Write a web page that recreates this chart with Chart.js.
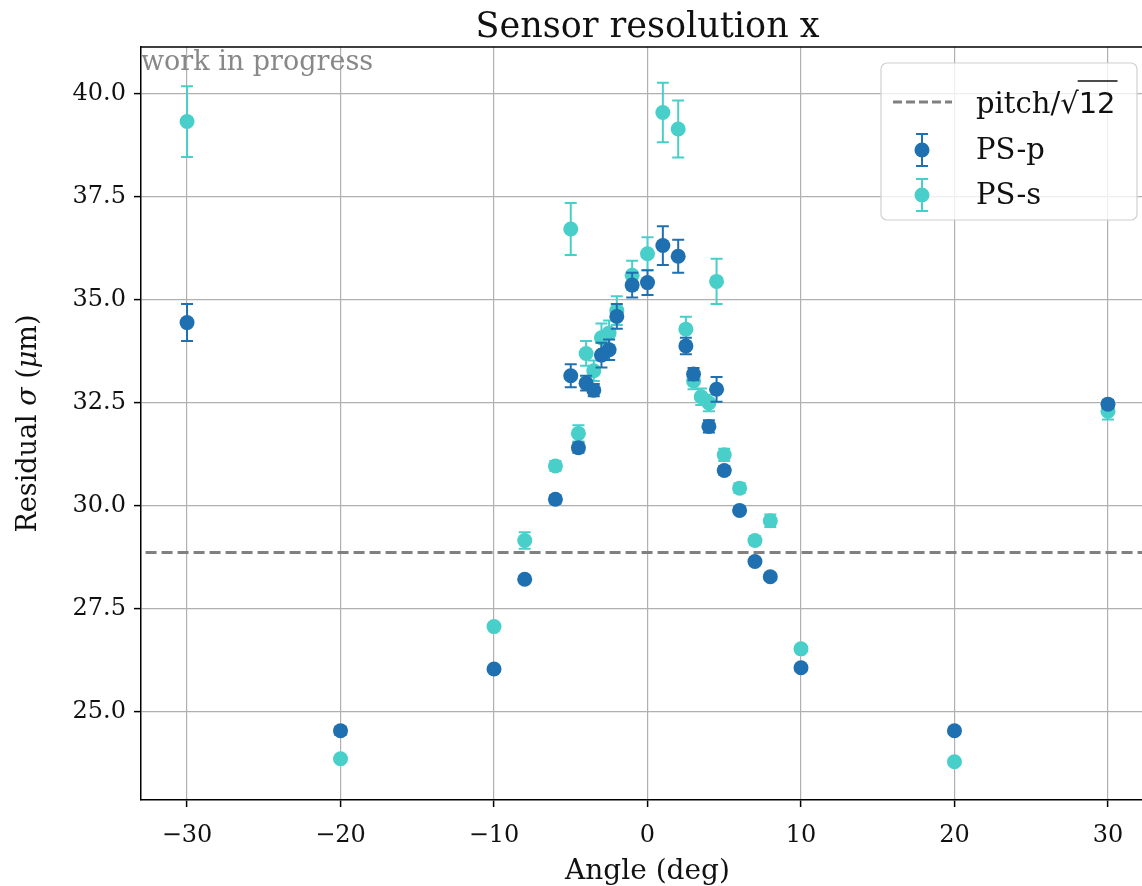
<!DOCTYPE html>
<html>
<head>
<meta charset="utf-8">
<script src="https://cdn.jsdelivr.net/npm/chart.js@4/dist/chart.umd.min.js"></script>
<style>
  html, body { margin: 0; padding: 0; background: #fff; overflow: hidden; width: 1142px; height: 886px; }
  canvas { display: block; }
</style>
</head>
<body>
<canvas id="resChart" width="1180" height="886"></canvas>
<script>
// Sensor resolution vs. angle
const angles = [-30, -20, -10, -8, -6, -5, -4.5, -4, -3.5, -3, -2.5, -2, -1, 0, 1, 2, 2.5, 3, 3.5, 4, 4.5, 5, 6, 7, 8, 10, 20, 30];
const psP    = [34.45, 24.54, 26.04, 28.22, 30.16, 33.16, 31.41, 32.98, 32.81, 33.66, 33.79, 34.60, 35.36, 35.42, 36.32, 36.06, 33.88, 33.20, null, 31.93, 32.83, 30.86, 29.89, 28.65, 28.28, 26.07, 24.54, 32.47];
const psPErr = [0.45, 0.10, 0.05, 0.08, 0.10, 0.28, 0.12, 0.18, 0.15, 0.30, 0.25, 0.30, 0.30, 0.30, 0.47, 0.40, 0.20, 0.15, null, 0.15, 0.30, 0.10, 0.08, 0.08, 0.08, 0.05, 0.08, 0.10];
const psS    = [39.33, 23.86, 27.07, 29.16, 30.97, 36.72, 31.76, 33.70, 33.28, 34.08, 34.20, 34.74, 35.60, 36.12, 39.55, 39.15, 34.29, 33.03, 32.65, 32.50, 35.45, 31.24, 30.43, 29.16, 29.64, 26.53, 23.79, 32.30];
const psSErr = [0.86, 0.06, 0.05, 0.20, 0.12, 0.63, 0.20, 0.30, 0.25, 0.35, 0.30, 0.35, 0.35, 0.40, 0.72, 0.69, 0.30, 0.20, 0.20, 0.20, 0.55, 0.15, 0.12, 0.10, 0.15, 0.06, 0.06, 0.20];
const pitchLine = 100 / Math.sqrt(12); // pitch/sqrt(12)
const xTicks = [-30, -20, -10, 0, 10, 20, 30];
const yTicks = [25.0, 27.5, 30.0, 32.5, 35.0, 37.5, 40.0];

const colP = '#1f70b0';
const colS = '#48cfc9';
const serif = '"DejaVu Serif", serif';

function points(vals, errs) {
    const out = [];
    angles.forEach((a, i) => {
        if (vals[i] !== null) out.push({ x: a, y: vals[i], err: errs[i] });
    });
    return out;
}

// draw error bars just before each scatter dataset, like matplotlib
const errorBars = {
    id: 'errorBars',
    beforeDatasetDraw(chart, args) {
        const ds = chart.data.datasets[args.index];
        if (!ds.errColor) return;
        const ctx = chart.ctx, xs = chart.scales.x, ys = chart.scales.y;
        const a = chart.chartArea;
        ctx.save();
        ctx.beginPath();
        ctx.rect(a.left, a.top, a.right - a.left, a.bottom - a.top);
        ctx.clip();
        ctx.strokeStyle = ds.errColor;
        ctx.lineWidth = 2;
        ds.data.forEach(p => {
            const px = xs.getPixelForValue(p.x);
            const y1 = ys.getPixelForValue(p.y + p.err);
            const y2 = ys.getPixelForValue(p.y - p.err);
            ctx.beginPath();
            ctx.moveTo(px, y1); ctx.lineTo(px, y2);
            ctx.moveTo(px - 6, y1); ctx.lineTo(px + 6, y1);
            ctx.moveTo(px - 6, y2); ctx.lineTo(px + 6, y2);
            ctx.stroke();
        });
        ctx.restore();
    }
};

// title, axis labels, annotation, frame and legend
const decorations = {
    id: 'decorations',
    afterDraw(chart) {
        const ctx = chart.ctx, a = chart.chartArea;
        const cx = (a.left + a.right) / 2;
        ctx.save();
        ctx.fillStyle = '#111';
        ctx.textAlign = 'center';
        ctx.textBaseline = 'alphabetic';
        ctx.font = '35px ' + serif;
        ctx.fillText('Sensor resolution x', cx, 37);

        ctx.font = '28px ' + serif;
        ctx.fillText('Angle (deg)', cx, 879);

        // y label with italic greek
        ctx.save();
        ctx.translate(36, (a.top + a.bottom) / 2);
        ctx.rotate(-Math.PI / 2);
        const parts = [['Residual ', ''], ['σ', 'italic '], [' (', ''], ['μ', 'italic '], ['m)', '']];
        let total = 0;
        parts.forEach(p => { ctx.font = p[1] + '27px ' + serif; total += ctx.measureText(p[0]).width; });
        let x0 = -total / 2;
        ctx.textAlign = 'left';
        parts.forEach(p => {
            ctx.font = p[1] + '27px ' + serif;
            ctx.fillText(p[0], x0, 0);
            x0 += ctx.measureText(p[0]).width;
        });
        ctx.restore();

        // top frame
        ctx.strokeStyle = '#000';
        ctx.lineWidth = 1.5;
        ctx.beginPath();
        ctx.moveTo(a.left, a.top); ctx.lineTo(a.right, a.top); ctx.lineTo(a.right, a.bottom);
        ctx.stroke();

        // work in progress
        ctx.fillStyle = '#888';
        ctx.textAlign = 'left';
        ctx.font = '27px ' + serif;
        ctx.fillText('work in progress', a.left, 70);

        // legend
        const lx = 881, ly = 63, lw = 256, lh = 157;
        ctx.fillStyle = 'rgba(255,255,255,0.8)';
        ctx.strokeStyle = '#d0d0d0';
        ctx.lineWidth = 1.2;
        ctx.beginPath();
        ctx.roundRect(lx, ly, lw, lh, 6);
        ctx.fill(); ctx.stroke();

        ctx.strokeStyle = '#808080';
        ctx.lineWidth = 3;
        ctx.setLineDash([9, 4]);
        ctx.beginPath(); ctx.moveTo(893, 102); ctx.lineTo(952, 102); ctx.stroke();
        ctx.setLineDash([]);

        ctx.fillStyle = '#111';
        ctx.font = '29px ' + serif;
        ctx.fillText('pitch/', 976, 113);
        let tx = 976 + ctx.measureText('pitch/').width;
        ctx.font = '29px "DejaVu Sans"';
        ctx.fillText('√', tx, 113);
        tx += ctx.measureText('√').width;
        const w12 = ctx.measureText('12').width;
        ctx.fillText('12', tx, 113);
        ctx.strokeStyle = '#111';
        ctx.lineWidth = 1.4;
        ctx.beginPath(); ctx.moveTo(tx - 1, 81); ctx.lineTo(tx + w12 + 2, 81); ctx.stroke();

        [[colP, 'PS-p', 150], [colS, 'PS-s', 195]].forEach(r => {
            ctx.strokeStyle = r[0];
            ctx.fillStyle = r[0];
            ctx.lineWidth = 2;
            ctx.beginPath();
            ctx.moveTo(922, r[2] - 16); ctx.lineTo(922, r[2] + 16);
            ctx.moveTo(916, r[2] - 16); ctx.lineTo(928, r[2] - 16);
            ctx.moveTo(916, r[2] + 16); ctx.lineTo(928, r[2] + 16);
            ctx.stroke();
            ctx.beginPath(); ctx.arc(922, r[2], 7.5, 0, Math.PI * 2); ctx.fill();
            ctx.fillStyle = '#111';
            ctx.font = '29px ' + serif;
            ctx.textBaseline = 'middle';
            ctx.fillText(r[1], 976, r[2] + 1);
            ctx.textBaseline = 'alphabetic';
        });
        ctx.restore();
    }
};

const canvas = document.getElementById('resChart');
new Chart(canvas, {
    type: 'scatter',
    data: {
        datasets: [
            {
                type: 'line',
                label: 'pitch/√12',
                data: [{ x: -40, y: pitchLine }, { x: 40, y: pitchLine }],
                borderColor: '#808080',
                borderWidth: 3,
                borderDash: [11, 5],
                pointRadius: 0,
                fill: false
            },
            {
                label: 'PS-p',
                data: points(psP, psPErr),
                errColor: colP,
                backgroundColor: colP,
                borderWidth: 0,
                pointRadius: 7.5
            },
            {
                label: 'PS-s',
                data: points(psS, psSErr),
                errColor: colS,
                backgroundColor: colS,
                borderWidth: 0,
                pointRadius: 7.5
            }
        ]
    },
    options: {
        responsive: false,
        animation: false,
        devicePixelRatio: 1,
        layout: { padding: { left: 0, top: 47, right: 26, bottom: 0 } },
        plugins: { legend: { display: false }, tooltip: { enabled: false }, title: { display: false } },
        scales: {
            x: {
                type: 'linear',
                min: -33, max: 33,
                afterFit: s => { s.height = 86; },
                afterBuildTicks: s => { s.ticks = xTicks.map(v => ({ value: v })); },
                ticks: {
                    color: '#111',
                    font: { family: serif, size: 24 },
                    padding: 14,
                    callback: v => String(v).replace('-', '\u2212')
                },
                grid: { color: '#b0b0b0', lineWidth: 1.2, tickColor: '#000', tickLength: 7, tickWidth: 1.5 },
                border: { color: '#000', width: 1.5 }
            },
            y: {
                min: 22.86, max: 41.14,
                afterFit: s => { s.width = 141; },
                afterBuildTicks: s => { s.ticks = yTicks.map(v => ({ value: v })); },
                ticks: {
                    color: '#111',
                    font: { family: serif, size: 24 },
                    padding: 8,
                    callback: v => v.toFixed(1)
                },
                grid: { color: '#b0b0b0', lineWidth: 1.2, tickColor: '#000', tickLength: 7, tickWidth: 1.5 },
                border: { color: '#000', width: 1.5 }
            }
        }
    },
    plugins: [errorBars, decorations]
});
</script>
</body>
</html>
